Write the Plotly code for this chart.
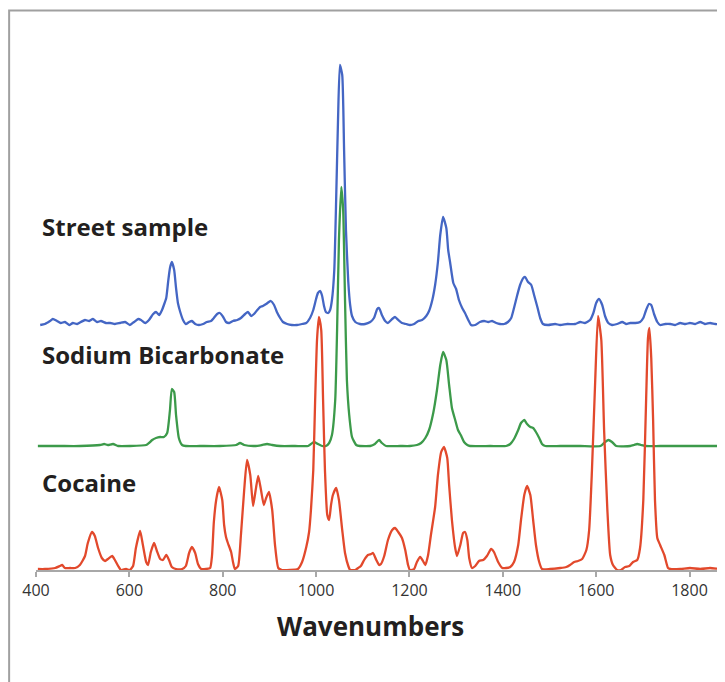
import plotly.graph_objects as go

# ---------------- data ----------------
# Cocaine spectrum (wavenumber, intensity)
cocaine_wn = [404, 419, 441, 451, 456, 462, 473, 484, 494, 505, 511, 520, 526, 533, 541, 548, 554, 563, 569, 576,
              582, 593, 601, 608, 614, 623, 629, 636, 640, 646, 653, 659, 666, 672, 679, 685, 691, 700, 713, 721,
              728, 734, 741, 747, 754, 764, 773, 777, 781, 786, 792, 799, 803, 807, 811, 818, 822, 826, 833, 839,
              846, 852, 859, 865, 869, 876, 882, 888, 893, 899, 906, 912, 919, 927, 944, 961, 970, 979, 985, 989,
              994, 998, 1002, 1006, 1011, 1015, 1019, 1024, 1028, 1032, 1036, 1043, 1049, 1056, 1062, 1069, 1073,
              1084, 1090, 1096, 1103, 1111, 1118, 1122, 1129, 1135, 1139, 1146, 1154, 1163, 1169, 1176, 1184, 1191,
              1197, 1201, 1210, 1216, 1223, 1229, 1234, 1240, 1246, 1255, 1261, 1268, 1274, 1281, 1285, 1291, 1298,
              1302, 1309, 1315, 1319, 1324, 1328, 1334, 1341, 1349, 1358, 1366, 1375, 1381, 1390, 1399, 1407, 1416,
              1424, 1433, 1439, 1446, 1452, 1459, 1465, 1471, 1478, 1484, 1501, 1523, 1536, 1544, 1553, 1561, 1570,
              1579, 1585, 1591, 1598, 1604, 1611, 1617, 1624, 1630, 1636, 1645, 1653, 1662, 1671, 1679, 1688, 1694,
              1701, 1707, 1711, 1714, 1718, 1722, 1726, 1731, 1737, 1746, 1754, 1759, 1780, 1801, 1823, 1844, 1865,
              1876]
cocaine_int = [1, 1, 2, 4, 5, 2, 2, 2, 5, 14, 27, 38, 34, 22, 12, 9, 11, 14, 10, 4,
               0, 1, 0, 4, 22, 39, 25, 8, 5, 18, 27, 19, 11, 10, 15, 10, 3, 1, 1, 4,
               17, 23, 17, 6, 1, 1, 2, 14, 48, 70, 83, 70, 45, 33, 27, 18, 8, 1, 4, 35,
               80, 110, 95, 64, 75, 94, 80, 65, 72, 78, 60, 25, 2, 0, 0, 1, 8, 23, 38, 60,
               100, 170, 230, 253, 240, 170, 100, 55, 50, 65, 75, 82, 70, 40, 17, 4, 0,
               0, 2, 4, 10, 15, 16, 17, 10, 5, 6, 14, 30, 40, 42, 38, 32, 20,
               5, 0, 1, 8, 13, 9, 5, 15, 35, 63, 95, 118, 123, 112, 85, 50, 22,
               14, 25, 37, 38, 30, 12, 2, 4, 9, 10, 14, 21, 18, 8, 2, 2, 3,
               8, 25, 50, 75, 84, 75, 50, 25, 8, 1, 1, 2, 3, 5, 8, 9, 11,
               20, 40, 100, 190, 254, 230, 140, 60, 15, 5, 0, 0, 3, 4, 8, 10, 22,
               70, 170, 232, 242, 212, 150, 70, 32, 25, 15, 2, 1, 1, 2, 1, 2, 1,
               1]

# Sodium bicarbonate spectrum
bicarb_wn = [404, 451, 494, 537, 546, 554, 565, 576, 601, 636, 642, 649, 657, 666, 674, 681, 687, 691, 696, 700,
             706, 713, 721, 751, 794, 829, 837, 846, 869, 884, 895, 906, 923, 955, 983, 989, 996, 1004, 1013, 1021,
             1028, 1034, 1041, 1045, 1049, 1054, 1058, 1062, 1066, 1071, 1077, 1086, 1094, 1116, 1126, 1135, 1141,
             1150, 1180, 1201, 1216, 1225, 1234, 1242, 1251, 1259, 1266, 1272, 1279, 1285, 1291, 1298, 1304, 1311,
             1317, 1324, 1330, 1373, 1407, 1416, 1424, 1433, 1439, 1446, 1452, 1459, 1465, 1471, 1478, 1484, 1491,
             1523, 1566, 1609, 1617, 1626, 1634, 1643, 1673, 1681, 1688, 1696, 1705, 1737, 1823, 1876]
bicarb_int = [0, 0, 0, 1, 2, 1, 2, 0, 0, 1, 3, 6, 8, 9, 9, 13, 36, 57, 54, 31,
              8, 1, 0, 0, 0, 1, 3, 1, 0, 1, 2, 1, 0, 0, 0, 2, 4, 2, 0, 0,
              3, 11, 46, 116, 206, 259, 236, 146, 66, 31, 9, 1, 0, 0, 2, 6, 3,
              0, 0, 0, 1, 3, 8, 16, 33, 56, 81, 94, 86, 61, 38, 26, 16, 10,
              4, 1, 0, 0, 0, 2, 7, 16, 23, 26, 22, 19, 18, 14, 8, 2, 0,
              0, 0, 0, 3, 6, 4, 0, 0, 1, 2, 1, 0, 0, 0, 0]

# Street sample spectrum
street_wn = [409, 419, 430, 436, 445, 453, 462, 471, 479, 488, 496, 505, 514, 522, 531, 539, 550, 559, 569, 580,
             591, 601, 610, 619, 625, 634, 642, 651, 657, 664, 670, 674, 679, 683, 687, 691, 696, 700, 704, 709,
             715, 721, 728, 734, 741, 749, 758, 766, 775, 781, 788, 794, 801, 807, 814, 822, 831, 839, 848, 854,
             861, 867, 874, 880, 886, 893, 899, 903, 910, 916, 923, 929, 938, 948, 959, 970, 979, 987, 994, 1000,
             1004, 1009, 1013, 1017, 1021, 1026, 1030, 1034, 1039, 1043, 1047, 1051, 1056, 1060, 1064, 1069, 1073,
             1077, 1084, 1094, 1105, 1116, 1124, 1131, 1135, 1141, 1148, 1154, 1163, 1169, 1176, 1184, 1193, 1201,
             1210, 1219, 1227, 1236, 1242, 1249, 1255, 1261, 1266, 1272, 1279, 1283, 1287, 1294, 1300, 1306, 1313,
             1319, 1326, 1332, 1341, 1351, 1360, 1369, 1377, 1386, 1394, 1403, 1411, 1418, 1424, 1431, 1437, 1444,
             1448, 1454, 1461, 1467, 1474, 1480, 1486, 1497, 1512, 1523, 1538, 1555, 1566, 1576, 1587, 1594, 1600,
             1606, 1613, 1619, 1626, 1634, 1645, 1656, 1664, 1673, 1684, 1694, 1701, 1707, 1713, 1718, 1724, 1731,
             1737, 1748, 1759, 1769, 1780, 1791, 1801, 1812, 1823, 1833, 1844, 1855, 1865, 1876]
street_int = [0, 1, 4, 6, 4, 2, 3, 0, 2, 1, 3, 5, 4, 6, 3, 4, 2, 2, 1, 2,
              3, 0, 3, 6, 5, 2, 5, 11, 13, 10, 15, 20, 27, 43, 57, 63, 55, 37, 22, 13,
              5, 1, 3, 4, 1, 0, 1, 3, 4, 7, 11, 12, 8, 3, 2, 4, 5, 7, 11, 13,
              9, 11, 15, 18, 19, 21, 23, 24, 20, 13, 7, 3, 1, 0, 0, 1, 2, 7, 15, 26,
              32, 34, 29, 19, 13, 12, 15, 25, 55, 125, 205, 260, 250, 175, 95, 43, 20,
              9, 3, 1, 1, 3, 7, 16, 17, 10, 4, 2, 6, 8, 5, 2, 1, 0,
              1, 4, 5, 9, 14, 25, 40, 63, 90, 108, 97, 75, 63, 42, 36, 25, 17,
              12, 5, 0, 0, 3, 4, 3, 4, 2, 1, 1, 3, 7, 17, 30, 40, 47,
              48, 43, 40, 30, 18, 7, 1, 0, 1, 0, 1, 1, 3, 2, 5, 12, 22,
              26, 20, 9, 2, 0, 1, 3, 1, 2, 2, 3, 7, 15, 21, 20, 11, 3,
              0, 1, 1, 0, 2, 1, 2, 1, 3, 1, 2, 1, 1, 1]

series_names = ["Street sample", "Sodium Bicarbonate", "Cocaine"]
series_offsets = [245, 124, 0]
series_colors = ["#4466C4", "#3C9A4A", "#E2492C"]

x_ticks = [400, 600, 800, 1000, 1200, 1400, 1600, 1800]
x_range = [400, 1876]
y_range = [0, 560]
x_title = "Wavenumbers"

# ---------------- figure ----------------
fig = go.Figure()
spectra = [(street_wn, street_int), (bicarb_wn, bicarb_int), (cocaine_wn, cocaine_int)]
for (wn, inten), name, off, col in zip(spectra, series_names, series_offsets, series_colors):
    fig.add_trace(go.Scatter(
        x=wn, y=[v + off for v in inten], mode="lines", name=name,
        line=dict(color=col, width=2.3, shape="spline", smoothing=0.5),
        hoverinfo="skip", showlegend=False, cliponaxis=False))

label_y = [344, 216, 88]
for name, yv in zip(series_names, label_y):
    fig.add_annotation(x=0.006, xref="paper", y=yv, yref="y", text="<b>%s</b>" % name,
                       showarrow=False, xanchor="left", yanchor="middle",
                       font=dict(family="Open Sans", size=24, color="#231F20"))

fig.add_annotation(x=0.485, xref="paper", y=-0.1, yref="paper", text="<b>%s</b>" % x_title,
                   showarrow=False, xanchor="center", yanchor="middle",
                   font=dict(family="Open Sans", size=26, color="#231F20"))

# outer frame
fig.add_shape(type="rect", xref="paper", yref="paper", x0=-0.039, x1=1.1, y0=-0.4, y1=0.999,
              line=dict(color="#A0A0A0", width=2), fillcolor="rgba(0,0,0,0)", layer="below")

fig.update_layout(
    width=717, height=674,
    margin=dict(l=28, r=0, t=2, b=112),
    paper_bgcolor="white", plot_bgcolor="white",
    xaxis=dict(range=x_range, tickvals=x_ticks, ticktext=[str(t) for t in x_ticks],
               showgrid=False, zeroline=False, showline=True, linecolor="#A8A8A8", linewidth=2,
               ticks="outside", ticklen=5, tickwidth=1.5, tickcolor="#A8A8A8",
               tickfont=dict(family="Open Sans", size=16, color="#333333")),
    yaxis=dict(range=y_range, visible=False, showgrid=False, zeroline=False),
)

fig.write_html("out.html", config={"displayModeBar": False})
